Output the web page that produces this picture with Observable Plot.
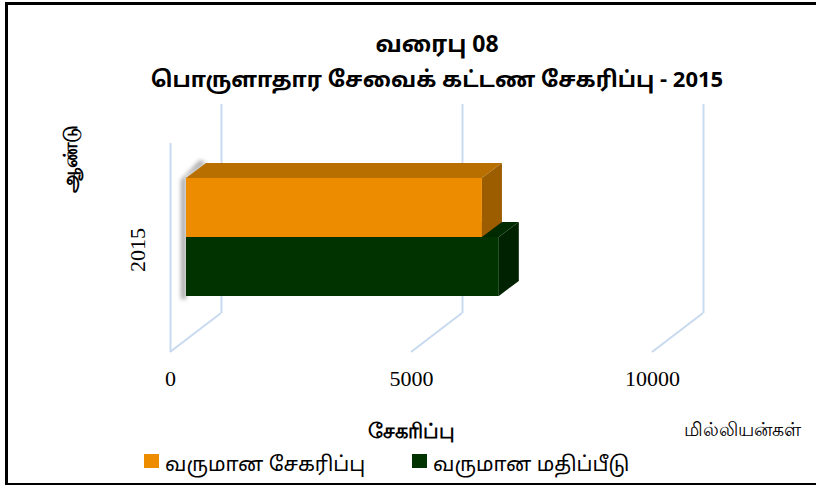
<!DOCTYPE html>
<html><head><meta charset="utf-8">
<script src="https://cdn.jsdelivr.net/npm/d3@7"></script>
<script src="https://cdn.jsdelivr.net/npm/@observablehq/plot@0.6"></script>
<style>
html,body{margin:0;padding:0;}
body{width:816px;height:485px;overflow:hidden;background:#fff;position:relative;font-family:"Noto Sans Tamil","Noto Sans","DejaVu Sans",sans-serif;color:#000;}
#frame{position:absolute;left:5px;top:2px;width:900px;height:478px;border:3px solid #000;}
.title{position:absolute;left:0;width:874px;text-align:center;font-weight:bold;white-space:nowrap;line-height:1;}
#t1{top:35px;font-size:23px;}
#t2{top:71px;font-size:22px;}
#chart{position:absolute;left:0;top:95px;}
.leg{position:absolute;top:454px;font-size:20.5px;line-height:1;white-space:nowrap;display:flex;align-items:flex-end;}
.sw{display:inline-block;width:15px;height:14px;margin-right:6px;margin-bottom:8px;}
</style></head>
<body>
<div id="frame"></div>
<div class="title" id="t1"></div>
<div class="title" id="t2"></div>
<div id="chart"></div>
<div id="legend"></div>
<script>
// ---- data ----
const titleMain = "வரைபு 08";
const titleSub = "பொருளாதார சேவைக் கட்டண சேகரிப்பு - 2015";
const years = ["2015"];
const series = ["வருமான சேகரிப்பு", "வருமான மதிப்பீடு"];
const amounts = [6140, 6490];
const xTicks = [0, 5000, 10000];
const yTitle = "ஆண்டு";
const xTitle = "சேகரிப்பு";
const unitLabel = "மில்லியன்கள்";
const frontColors = ["#EE8C00", "#003300"];
const topColors = ["#B86F00", "#002A00"];
const sideColors = ["#9B5D00", "#002200"];
const gridColor = "#C8DAF0";

document.getElementById("t1").textContent = titleMain;
document.getElementById("t2").textContent = titleSub;

const rows = series.map((s, i) => ({series: s, value: amounts[i], year: years[0]}));

// 3D geometry offsets (pixels)
const WX = 51, WY = -39;   // wall depth
const FX = 16, FY = -12;   // bar front plane
const DX = 20, DY = -15;   // bar depth

function floorLines(index, scales, vals, dims) {
  const g = d3.create("svg:g").attr("stroke", gridColor).attr("stroke-width", 2);
  const yb = dims.height - dims.marginBottom;
  for (const t of xTicks) {
    g.append("line")
      .attr("x1", scales.x(t)).attr("y1", yb)
      .attr("x2", scales.x(t) + WX).attr("y2", yb + WY);
  }
  return g.node();
}

function depthFaces(index, scales, vals, dims) {
  const g = d3.create("svg:g");
  const x = scales.x, y = scales.y;
  const bw = Math.abs(y(series[1]) - y(series[0]));
  // soft shadow on the left of the bar stack
  const x0 = x(0) + FX, yTop = y(series[0]) + FY, yBot = y(series[series.length - 1]) + FY + bw;
  g.append("polygon")
    .attr("points", [[x0 - 5, yTop + 2], [x0 + DX - 6, yTop + DY - 3], [x0 + DX, yTop + DY], [x0, yTop], [x0, yBot + 3], [x0 - 5, yBot + 3]].map(p => p.join(",")).join(" "))
    .attr("fill", "rgba(0,0,0,0.35)")
    .style("filter", "blur(2px)");
  for (let i = series.length - 1; i >= 0; i--) {
    const xl = x(0) + FX, xr = x(amounts[i]) + FX;
    const yt = y(series[i]) + FY, yb = yt + bw;
    g.append("polygon")
      .attr("points", [[xl, yt], [xr, yt], [xr + DX, yt + DY], [xl + DX, yt + DY]].map(p => p.join(",")).join(" "))
      .attr("fill", topColors[i]);
    g.append("polygon")
      .attr("points", [[xr, yt], [xr + DX, yt + DY], [xr + DX, yb + DY], [xr, yb]].map(p => p.join(",")).join(" "))
      .attr("fill", sideColors[i]);
  }
  return g.node();
}

const plot = Plot.plot({
  width: 816,
  height: 350,
  marginLeft: 170,
  marginRight: 164,
  marginTop: 48,
  marginBottom: 93,
  style: {background: "transparent", overflow: "visible"},
  x: {domain: [xTicks[0], xTicks[xTicks.length - 1]], range: [170, 652], axis: null},
  y: {type: "band", domain: series, range: [94, 213], padding: 0, axis: null},
  color: {domain: series, range: frontColors},
  marks: [
    Plot.ruleX(xTicks, {x: d => d, stroke: gridColor, strokeWidth: 2, dx: WX, dy: WY}),
    Plot.ruleX([xTicks[0]], {x: d => d, stroke: gridColor, strokeWidth: 2}),
    floorLines,
    depthFaces,
    Plot.barX(rows, {x: "value", y: "series", fill: "series", dx: FX, dy: FY, insetTop: 0, insetBottom: 0}),
    Plot.text(xTicks, {x: d => d, text: d => String(d), frameAnchor: "bottom", dy: 33,
      fontSize: 22, fontFamily: "Liberation Serif", fill: "#000"}),
    Plot.text(years, {text: d => d, frameAnchor: "left", textAnchor: "middle", dx: -33, dy: 2, rotate: -90,
      fontSize: 22, fontFamily: "Liberation Serif", fill: "#000"}),
    Plot.text([yTitle], {text: d => d, frameAnchor: "left", textAnchor: "middle", dx: -100, dy: -89, rotate: -90,
      fontSize: 20, fontWeight: "bold", fill: "#000"}),
    Plot.text([xTitle], {text: d => d, frameAnchor: "bottom", dy: 85, textAnchor: "middle",
      fontSize: 21, fontWeight: "bold", fill: "#000"}),
    Plot.text([unitLabel], {text: d => d, frameAnchor: "bottom-right", dx: 90, dy: 83, textAnchor: "middle",
      fontSize: 19, fill: "#000"})
  ]
});
document.getElementById("chart").appendChild(plot);

// legend
const legend = document.getElementById("legend");
const legLeft = [144, 412];
series.forEach((s, i) => {
  const item = document.createElement("div");
  item.className = "leg";
  item.style.left = legLeft[i] + "px";
  const sw = document.createElement("span");
  sw.className = "sw";
  sw.style.background = frontColors[i];
  const tx = document.createElement("span");
  tx.textContent = s;
  item.appendChild(sw);
  item.appendChild(tx);
  legend.appendChild(item);
});
</script>
</body></html>
